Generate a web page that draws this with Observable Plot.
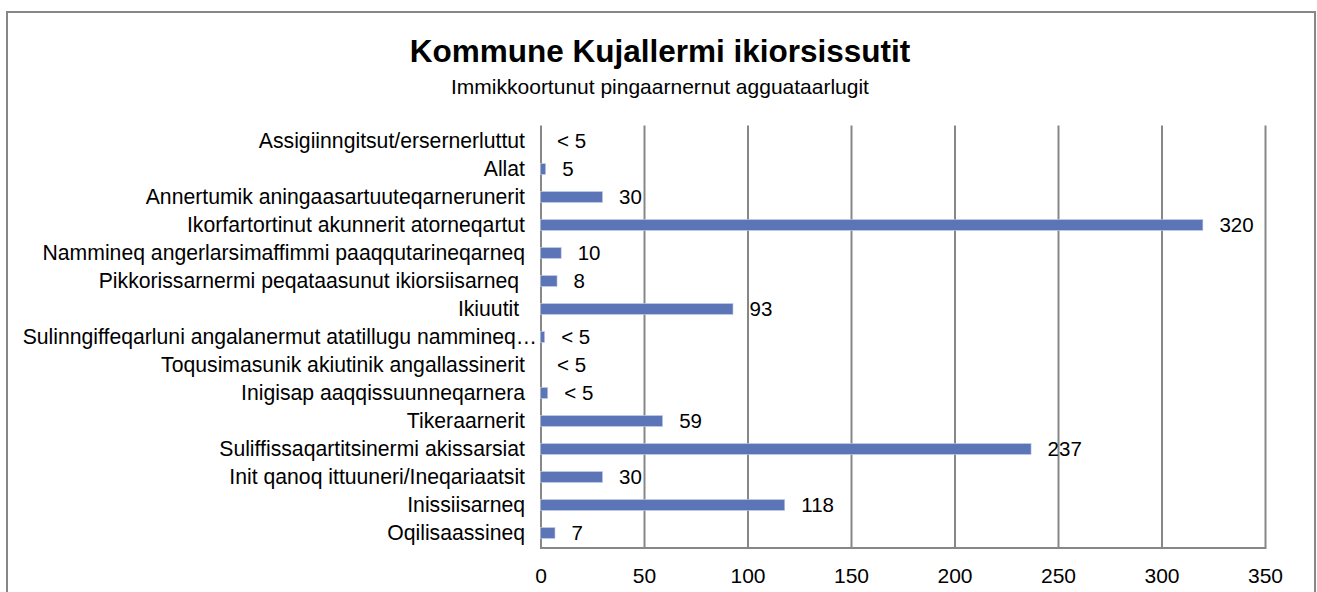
<!DOCTYPE html>
<html>
<head>
<meta charset="utf-8">
<script src="https://cdn.jsdelivr.net/npm/d3@7"></script>
<script src="https://cdn.jsdelivr.net/npm/@observablehq/plot@0.6"></script>
<style>
  html, body { margin: 0; padding: 0; background: #fff; overflow: hidden; }
  body { width: 1317px; height: 592px; position: relative; font-family: "Liberation Sans", Arial, sans-serif; }
  #frame { position: absolute; left: 6px; top: 11px; width: 1310px; height: 620px; border: 2px solid #878787; box-sizing: border-box; }
  #title { position: absolute; left: 0; width: 1320px; top: 36px; text-align: center; font-size: 31.5px; font-weight: bold; color: #000; line-height: 1; }
  #subtitle { position: absolute; left: 0; width: 1320px; top: 76px; text-align: center; font-size: 21px; color: #000; line-height: 1; }
  #chart { position: absolute; left: 0; top: 110px; }
  svg text { white-space: pre; }
</style>
</head>
<body>
<div id="frame"></div>
<div id="title">Kommune Kujallermi ikiorsissutit</div>
<div id="subtitle">Immikkoortunut pingaarnernut agguataarlugit</div>
<div id="chart"></div>
<script>
// Categories, top to bottom
const categories = [
  "Assigiinngitsut/ersernerluttut",
  "Allat",
  "Annertumik aningaasartuuteqarnerunerit",
  "Ikorfartortinut akunnerit atorneqartut",
  "Nammineq angerlarsimaffimmi paaqqutarineqarneq",
  "Pikkorissarnermi peqataasunut ikiorsiisarneq ",
  "Ikiuutit ",
  "Sulinngiffeqarluni angalanermut atatillugu nammineq…",
  "Toqusimasunik akiutinik angallassinerit",
  "Inigisap aaqqissuunneqarnera",
  "Tikeraarnerit",
  "Suliffissaqartitsinermi akissarsiat",
  "Init qanoq ittuuneri/Ineqariaatsit",
  "Inissiisarneq",
  "Oqilisaassineq"
];
// Bar lengths as drawn
const values = [0, 2.5, 30, 320, 10, 8, 93, 2, 0, 3.5, 59, 237, 30, 118, 7];
// Data labels as printed
const valueLabels = ["< 5", "5", "30", "320", "10", "8", "93", "< 5", "< 5", "< 5", "59", "237", "30", "118", "7"];
const xTicks = [0, 50, 100, 150, 200, 250, 300, 350];

const data = categories.map((c, i) => ({category: c, value: values[i], label: valueLabels[i]}));

const FONT = "Liberation Sans, Arial, sans-serif";
const chart = Plot.plot({
  width: 1317,
  height: 482,
  marginLeft: 540.5,
  marginRight: 52,
  marginTop: 15.5,
  marginBottom: 44.5,
  style: {fontFamily: FONT, fontSize: "21px", color: "#000", background: "transparent"},
  x: {domain: [0, 350], ticks: xTicks, label: null},
  y: {domain: categories, padding: 0, label: null, axis: null},
  marks: [
    Plot.gridX(xTicks, {stroke: "#878787", strokeOpacity: 1, strokeWidth: 2}),
    Plot.frame({anchor: "bottom", stroke: "#878787", strokeWidth: 2}),
    Plot.barX(data, {x: "value", y: "category", fill: "#5b75b6", stroke: "#c5d0ea", strokeWidth: 0.6, insetTop: 8.5, insetBottom: 8.5}),
    Plot.text(data, {x: "value", y: "category", text: "label", dx: 16, textAnchor: "start", fontSize: 20.5, fill: "#000"}),
    Plot.text(data.filter(d => !d.category.endsWith("…")), {x: 0, y: "category", text: "category", dx: -16, textAnchor: "end", fontSize: 21.2, fill: "#000"}),
    Plot.text(data.filter(d => d.category.endsWith("…")), {x: 0, y: "category", text: "category", dx: -4, textAnchor: "end", fontSize: 21.2, fill: "#000"}),
    Plot.axisX(xTicks, {tickSize: 0, tickPadding: 20, fontSize: 21, label: null, tickFormat: d => String(d)})
  ]
});
document.getElementById("chart").appendChild(chart);
</script>
</body>
</html>
